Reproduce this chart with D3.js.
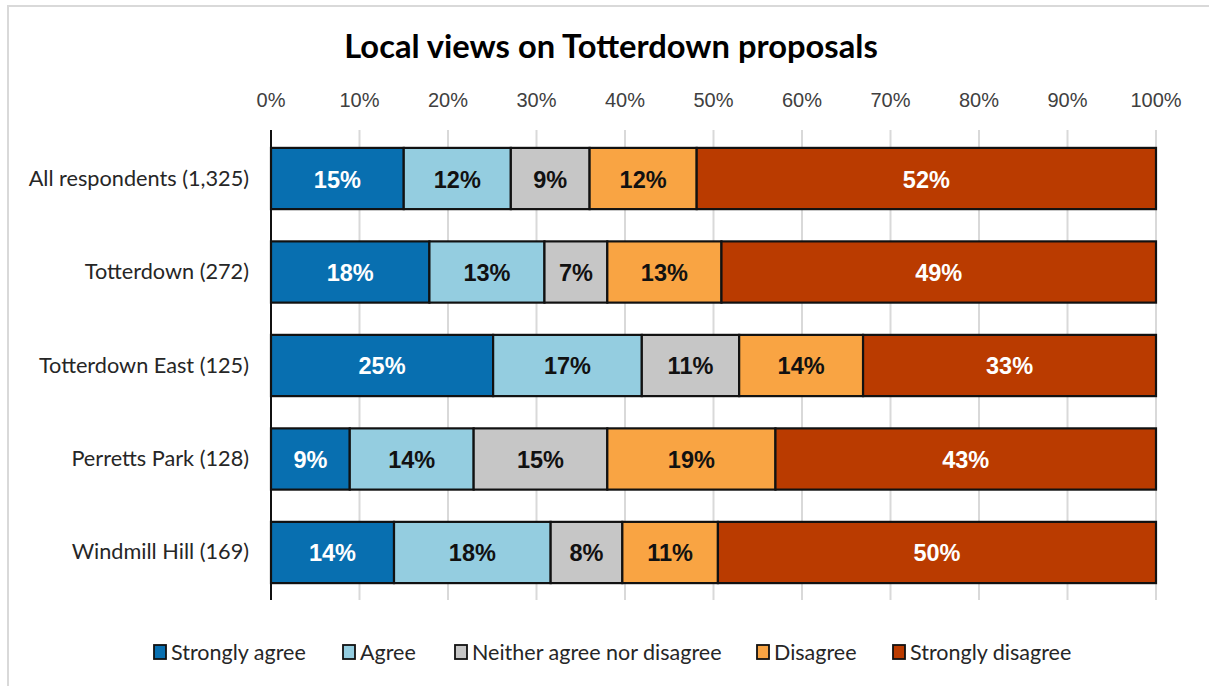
<!DOCTYPE html>
<html>
<head>
<meta charset="utf-8">
<script src="https://cdn.jsdelivr.net/npm/d3@7"></script>
<style>
  body { margin: 0; background: #fff; }
  svg { display: block; }
</style>
</head>
<body>
<script>
// data (percent per response)
var groups = ["All respondents (1,325)", "Totterdown (272)", "Totterdown East (125)", "Perretts Park (128)", "Windmill Hill (169)"];
var responses = ["Strongly agree", "Agree", "Neither agree nor disagree", "Disagree", "Strongly disagree"];
var stronglyAgree = [15.0, 17.9, 25.1, 8.9, 13.9];
var agree = [12.1, 13.0, 16.8, 14.0, 17.7];
var neither = [8.9, 7.1, 11.0, 15.1, 8.1];
var disagree = [12.1, 12.9, 14.0, 19.0, 10.8];
var stronglyDisagree = [51.9, 49.1, 33.1, 43.0, 49.5];
var xTicks = [0, 10, 20, 30, 40, 50, 60, 70, 80, 90, 100];

var colors = ["#086fb0", "#94cde0", "#c6c6c6", "#f9a443", "#ba3b00"];
var labelColors = ["#fff", "#111", "#111", "#111", "#fff"];

var svgWidth = 1209, svgHeight = 686;
var margin = {top: 132, right: 52, bottom: 87, left: 271};

var svg = d3.select("body").append("svg")
  .attr("width", svgWidth)
  .attr("height", svgHeight);

// chart frame
svg.append("rect")
  .attr("x", 8).attr("y", 6)
  .attr("width", svgWidth + 20).attr("height", svgHeight + 20)
  .attr("fill", "#fff")
  .attr("stroke", "#d9d9d9")
  .attr("stroke-width", 2);

// build rows
var series = [stronglyAgree, agree, neither, disagree, stronglyDisagree];
var rows = groups.map(function(g, i) {
  var start = 0;
  return {
    group: g,
    segs: series.map(function(s, k) {
      var seg = {k: k, x0: start, x1: start + s[i], v: s[i]};
      start += s[i];
      return seg;
    })
  };
});

var x = d3.scaleLinear().domain([0, 100]).range([margin.left, svgWidth - margin.right - 1]);
var y = d3.scaleBand().domain(groups)
  .range([margin.top, svgHeight - margin.bottom])
  .paddingInner(0.345).paddingOuter(0.17);

// gridlines
svg.append("g").selectAll("line")
  .data(xTicks.slice(1))
  .enter().append("line")
  .attr("x1", function(d) { return x(d); })
  .attr("x2", function(d) { return x(d); })
  .attr("y1", margin.top - 2)
  .attr("y2", svgHeight - margin.bottom + 1)
  .attr("stroke", "#d9d9d9")
  .attr("stroke-width", 2);

// top tick labels
svg.append("g").selectAll("text")
  .data(xTicks)
  .enter().append("text")
  .attr("x", function(d) { return x(d); })
  .attr("y", 107)
  .attr("text-anchor", "middle")
  .attr("font-family", "Liberation Sans, Arial, sans-serif")
  .attr("font-size", "20px")
  .attr("fill", "#404040")
  .text(function(d) { return d + "%"; });

// bars
var rowG = svg.append("g").selectAll("g")
  .data(rows)
  .enter().append("g")
  .attr("transform", function(d) { return "translate(0," + y(d.group) + ")"; });

rowG.selectAll("rect")
  .data(function(d) { return d.segs; })
  .enter().append("rect")
  .attr("x", function(d) { return x(d.x0); })
  .attr("width", function(d) { return x(d.x1) - x(d.x0); })
  .attr("y", 0)
  .attr("height", y.bandwidth())
  .attr("fill", function(d) { return colors[d.k]; })
  .attr("stroke", "#111")
  .attr("stroke-width", 2.2);

rowG.selectAll("text")
  .data(function(d) { return d.segs; })
  .enter().append("text")
  .attr("x", function(d) { return (x(d.x0) + x(d.x1)) / 2; })
  .attr("y", y.bandwidth() / 2 + 9)
  .attr("text-anchor", "middle")
  .attr("font-family", "Liberation Sans, Arial, sans-serif")
  .attr("font-weight", "bold")
  .attr("font-size", "23.5px")
  .attr("fill", function(d) { return labelColors[d.k]; })
  .text(function(d) { return Math.round(d.v) + "%"; });

// category axis
svg.append("line")
  .attr("x1", margin.left).attr("x2", margin.left)
  .attr("y1", margin.top - 2).attr("y2", svgHeight - margin.bottom + 1)
  .attr("stroke", "#111")
  .attr("stroke-width", 2);

svg.append("g").selectAll("text")
  .data(groups)
  .enter().append("text")
  .attr("x", margin.left - 22)
  .attr("y", function(d) { return y(d) + y.bandwidth() / 2 + 7; })
  .attr("text-anchor", "end")
  .attr("font-family", "Lato, sans-serif")
  .attr("font-size", "21.7px")
  .attr("fill", "#262626")
  .text(function(d) { return d; });

// title
svg.append("text")
  .attr("x", 611)
  .attr("y", 58)
  .attr("text-anchor", "middle")
  .attr("font-family", "Lato, sans-serif")
  .attr("font-weight", "bold")
  .attr("font-size", "32.7px")
  .attr("fill", "#000")
  .text("Local views on Totterdown proposals");

// legend
var legendX = [154, 343, 455, 757, 893];
var legend = svg.append("g").selectAll("g")
  .data(responses)
  .enter().append("g")
  .attr("transform", function(d, i) { return "translate(" + legendX[i] + ",645)"; });

legend.append("rect")
  .attr("width", 12).attr("height", 14)
  .attr("fill", function(d, i) { return colors[i]; })
  .attr("stroke", "#111")
  .attr("stroke-width", 1.8);

legend.append("text")
  .attr("x", 17)
  .attr("y", 14.5)
  .attr("font-family", "Lato, sans-serif")
  .attr("font-size", "21.5px")
  .attr("fill", "#262626")
  .text(function(d) { return d; });
</script>
</body>
</html>
